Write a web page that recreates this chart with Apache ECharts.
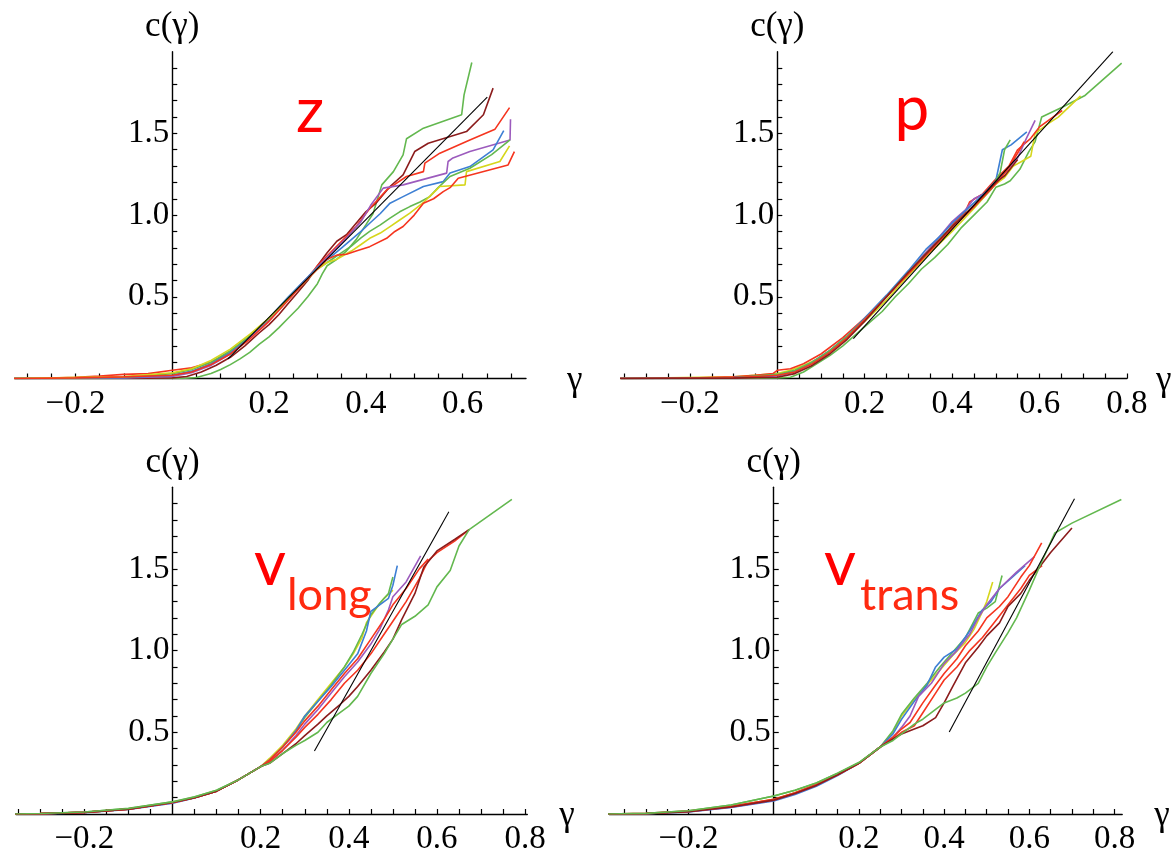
<!DOCTYPE html>
<html><head><meta charset="utf-8">
<script src="https://cdn.jsdelivr.net/npm/echarts@6/dist/echarts.min.js"></script>
<style>html,body{margin:0;padding:0;background:#fff}#c{width:1173px;height:855px}</style>
</head><body><div id="c"></div>
<script>
// ---------- tick labels ----------
const yTickLabels = [0.5, 1.0, 1.5];
const xTickLabelsZ = [-0.2, 0.2, 0.4, 0.6];
const xTickLabelsOther = [-0.2, 0.2, 0.4, 0.6, 0.8];
const panelTitles = ['z', 'p', 'v', 'v'];
const panelSubs = ['', '', 'long', 'trans'];
const yAxisName = 'c(\u03b3)';
const xAxisName = '\u03b3';

// ---------- panel z ----------
const z_green1 = [[-0.33,0],[-0.1,0],[0.02,0],[0.05,0.006],[0.08,0.03],[0.1,0.055],[0.12,0.085],[0.14,0.12],[0.16,0.16],[0.18,0.21],[0.2,0.255],[0.22,0.31],[0.24,0.37],[0.26,0.43],[0.28,0.5],[0.3,0.58],[0.31,0.64],[0.32,0.69],[0.34,0.73],[0.36,0.78],[0.38,0.85],[0.4,0.94],[0.415,1.01],[0.433,1.185],[0.457,1.266],[0.477,1.369],[0.484,1.467],[0.519,1.532],[0.598,1.614],[0.603,1.736],[0.619,1.934]];
const z_darkred = [[-0.33,0],[-0.1,0.001],[0,0.004],[0.03,0.012],[0.06,0.04],[0.09,0.08],[0.12,0.13],[0.15,0.2],[0.18,0.28],[0.2,0.33],[0.22,0.39],[0.24,0.46],[0.26,0.53],[0.28,0.6],[0.3,0.69],[0.32,0.77],[0.34,0.84],[0.36,0.88],[0.38,0.95],[0.4,1.02],[0.42,1.07],[0.45,1.175],[0.477,1.246],[0.501,1.389],[0.529,1.44],[0.608,1.511],[0.643,1.614],[0.663,1.777]];
const z_red1 = [[-0.33,0],[-0.25,0.003],[-0.2,0.008],[-0.15,0.015],[-0.1,0.025],[-0.05,0.03],[0,0.05],[0.04,0.065],[0.08,0.1],[0.12,0.16],[0.16,0.25],[0.2,0.36],[0.24,0.49],[0.27,0.58],[0.3,0.69],[0.33,0.78],[0.36,0.87],[0.38,0.93],[0.408,1.04],[0.443,1.154],[0.484,1.236],[0.519,1.266],[0.522,1.318],[0.553,1.379],[0.615,1.46],[0.667,1.526],[0.697,1.658]];
const z_purple = [[-0.33,0],[-0.1,0.003],[0,0.012],[0.04,0.035],[0.08,0.08],[0.12,0.15],[0.16,0.25],[0.2,0.36],[0.24,0.49],[0.27,0.59],[0.3,0.68],[0.33,0.77],[0.36,0.86],[0.39,0.96],[0.41,1.06],[0.436,1.165],[0.477,1.185],[0.567,1.257],[0.57,1.328],[0.58,1.35],[0.615,1.389],[0.698,1.46],[0.699,1.587]];
const z_blue = [[-0.33,0],[-0.1,0.005],[0,0.02],[0.04,0.045],[0.08,0.09],[0.12,0.16],[0.16,0.26],[0.2,0.37],[0.24,0.5],[0.27,0.59],[0.3,0.68],[0.33,0.75],[0.35,0.8],[0.37,0.85],[0.39,0.9],[0.408,0.95],[0.43,1.01],[0.45,1.073],[0.477,1.113],[0.519,1.175],[0.56,1.205],[0.574,1.257],[0.615,1.297],[0.663,1.399],[0.685,1.517]];
const z_green2 = [[-0.33,0],[-0.1,0.008],[0,0.03],[0.04,0.055],[0.08,0.1],[0.12,0.17],[0.16,0.26],[0.2,0.37],[0.24,0.49],[0.27,0.58],[0.3,0.67],[0.33,0.73],[0.35,0.77],[0.37,0.81],[0.39,0.86],[0.408,0.9],[0.43,0.94],[0.45,0.981],[0.47,1.02],[0.491,1.052],[0.512,1.08],[0.532,1.113],[0.55,1.17],[0.574,1.236],[0.615,1.287],[0.66,1.37],[0.698,1.46]];
const z_yellow = [[-0.33,0],[-0.1,0.012],[0,0.035],[0.04,0.06],[0.08,0.11],[0.12,0.18],[0.16,0.27],[0.2,0.37],[0.24,0.49],[0.27,0.58],[0.3,0.67],[0.32,0.71],[0.34,0.73],[0.37,0.78],[0.39,0.82],[0.408,0.858],[0.43,0.89],[0.45,0.93],[0.47,0.97],[0.491,1.012],[0.52,1.08],[0.546,1.154],[0.553,1.175],[0.605,1.185],[0.608,1.266],[0.677,1.328],[0.697,1.424]];
const z_red2 = [[-0.33,0],[-0.2,0.004],[-0.1,0.01],[0,0.02],[0.04,0.04],[0.08,0.085],[0.12,0.15],[0.16,0.24],[0.2,0.35],[0.24,0.48],[0.27,0.58],[0.3,0.67],[0.32,0.73],[0.34,0.755],[0.36,0.76],[0.38,0.78],[0.408,0.807],[0.443,0.858],[0.46,0.9],[0.477,0.93],[0.5,1.0],[0.519,1.073],[0.54,1.1],[0.56,1.144],[0.575,1.17],[0.591,1.226],[0.694,1.307],[0.707,1.389]];
const z_fit = [[0.115,0.12],[0.651,1.722]];

// ---------- panel p ----------
const p_green1 = [[-0.36,0],[-0.1,0],[0,0.003],[0.03,0.008],[0.06,0.04],[0.09,0.09],[0.12,0.14],[0.15,0.2],[0.18,0.27],[0.21,0.34],[0.24,0.41],[0.27,0.5],[0.3,0.58],[0.33,0.67],[0.36,0.74],[0.39,0.82],[0.42,0.92],[0.45,1.0],[0.48,1.08],[0.5,1.17],[0.52,1.19],[0.533,1.21],[0.555,1.28],[0.575,1.385],[0.59,1.45],[0.605,1.6],[0.652,1.66],[0.703,1.73],[0.788,1.93]];
const p_yellow = [[-0.36,0],[-0.1,0.01],[0,0.03],[0.03,0.05],[0.06,0.08],[0.1,0.13],[0.15,0.23],[0.2,0.35],[0.25,0.48],[0.3,0.63],[0.35,0.77],[0.4,0.9],[0.45,1.04],[0.5,1.19],[0.52,1.23],[0.54,1.3],[0.56,1.33],[0.58,1.36],[0.59,1.5],[0.62,1.56],[0.643,1.6],[0.694,1.73]];
const p_red1 = [[-0.36,0],[-0.2,0.002],[-0.1,0.01],[-0.05,0.02],[-0.01,0.03],[0,0.05],[0.03,0.06],[0.06,0.09],[0.1,0.15],[0.15,0.25],[0.2,0.37],[0.25,0.5],[0.3,0.65],[0.35,0.8],[0.38,0.87],[0.41,0.97],[0.43,1.02],[0.44,1.08],[0.47,1.13],[0.5,1.22],[0.53,1.3],[0.55,1.4],[0.58,1.47],[0.6,1.54],[0.652,1.64]];
const p_purple = [[-0.36,0],[-0.1,0.004],[0,0.015],[0.04,0.04],[0.08,0.1],[0.12,0.17],[0.16,0.26],[0.2,0.36],[0.25,0.5],[0.3,0.65],[0.35,0.8],[0.4,0.96],[0.43,1.03],[0.45,1.1],[0.48,1.14],[0.5,1.2],[0.52,1.26],[0.55,1.35],[0.57,1.47],[0.59,1.58]];
const p_blue = [[-0.36,0],[-0.1,0.006],[0,0.02],[0.04,0.045],[0.08,0.1],[0.12,0.17],[0.16,0.26],[0.2,0.37],[0.25,0.51],[0.3,0.66],[0.34,0.79],[0.38,0.89],[0.4,0.95],[0.44,1.05],[0.48,1.15],[0.5,1.21],[0.515,1.4],[0.535,1.43],[0.571,1.51]];
const p_green2 = [[-0.36,0],[-0.1,0.005],[0,0.025],[0.04,0.05],[0.08,0.1],[0.12,0.17],[0.16,0.26],[0.2,0.36],[0.25,0.5],[0.3,0.65],[0.35,0.79],[0.4,0.93],[0.45,1.05],[0.49,1.16],[0.51,1.26],[0.52,1.4],[0.533,1.46]];
const p_red2 = [[-0.36,0],[-0.1,0.005],[0,0.02],[0.04,0.04],[0.08,0.09],[0.12,0.16],[0.16,0.25],[0.2,0.36],[0.25,0.5],[0.3,0.64],[0.35,0.78],[0.4,0.92],[0.45,1.05],[0.5,1.19],[0.53,1.29],[0.55,1.38],[0.565,1.45]];
const p_darkred = [[-0.36,0],[-0.1,0.002],[0,0.008],[0.04,0.03],[0.08,0.08],[0.12,0.15],[0.16,0.24],[0.2,0.35],[0.25,0.5],[0.3,0.65],[0.35,0.79],[0.4,0.93],[0.45,1.06],[0.5,1.2],[0.52,1.24],[0.55,1.34]];
const p_fit = [[0.174,0.244],[0.768,2.0]];

// ---------- panel v_long ----------
const vl_yellow = [[-0.36,0],[-0.3,0.002],[-0.2,0.01],[-0.1,0.03],[0,0.07],[0.05,0.1],[0.1,0.14],[0.15,0.21],[0.2,0.29],[0.22,0.34],[0.25,0.42],[0.28,0.52],[0.3,0.6],[0.33,0.7],[0.36,0.8],[0.39,0.9],[0.41,0.98],[0.43,1.08],[0.44,1.17],[0.46,1.25],[0.48,1.32],[0.5,1.37]];
const vl_green1 = [[-0.36,0],[-0.3,0.003],[-0.2,0.012],[-0.1,0.035],[0,0.075],[0.05,0.105],[0.1,0.145],[0.15,0.21],[0.2,0.29],[0.22,0.33],[0.25,0.41],[0.28,0.51],[0.3,0.59],[0.33,0.69],[0.36,0.79],[0.39,0.9],[0.41,0.99],[0.43,1.1],[0.45,1.22],[0.47,1.29],[0.49,1.35],[0.5,1.45]];
const vl_blue = [[-0.36,0],[-0.3,0.001],[-0.2,0.008],[-0.1,0.028],[0,0.066],[0.05,0.098],[0.1,0.14],[0.15,0.21],[0.2,0.29],[0.22,0.33],[0.25,0.41],[0.28,0.51],[0.3,0.6],[0.33,0.69],[0.36,0.78],[0.39,0.88],[0.42,0.98],[0.44,1.12],[0.45,1.24],[0.47,1.28],[0.49,1.32],[0.5,1.4],[0.51,1.52]];
const vl_purple = [[-0.36,0],[-0.3,0.002],[-0.2,0.01],[-0.1,0.03],[0,0.068],[0.05,0.1],[0.1,0.14],[0.15,0.21],[0.2,0.29],[0.22,0.32],[0.25,0.39],[0.28,0.48],[0.3,0.55],[0.33,0.64],[0.36,0.74],[0.39,0.84],[0.42,0.93],[0.45,1.04],[0.47,1.13],[0.49,1.25],[0.5,1.33],[0.53,1.42],[0.563,1.58]];
const vl_red1 = [[-0.36,0],[-0.3,0.002],[-0.2,0.01],[-0.1,0.03],[0,0.07],[0.05,0.1],[0.1,0.14],[0.15,0.21],[0.2,0.29],[0.22,0.32],[0.25,0.39],[0.28,0.47],[0.3,0.53],[0.33,0.61],[0.36,0.7],[0.39,0.8],[0.42,0.88],[0.45,0.98],[0.48,1.1],[0.5,1.18],[0.53,1.3],[0.56,1.44],[0.58,1.55],[0.6,1.6],[0.64,1.67],[0.673,1.74]];
const vl_red2 = [[-0.36,0],[-0.3,0.002],[-0.2,0.01],[-0.1,0.03],[0,0.07],[0.05,0.1],[0.1,0.14],[0.15,0.21],[0.2,0.29],[0.22,0.33],[0.25,0.41],[0.28,0.5],[0.3,0.57],[0.33,0.66],[0.36,0.76],[0.39,0.86],[0.42,0.95],[0.45,1.07],[0.48,1.19],[0.5,1.28],[0.53,1.38],[0.56,1.5],[0.58,1.56]];
const vl_darkred = [[-0.36,0],[-0.3,0.002],[-0.2,0.01],[-0.1,0.03],[0,0.07],[0.05,0.1],[0.1,0.14],[0.15,0.21],[0.2,0.29],[0.22,0.31],[0.25,0.37],[0.28,0.43],[0.3,0.48],[0.33,0.55],[0.35,0.6],[0.38,0.67],[0.4,0.72],[0.42,0.78],[0.45,0.88],[0.48,0.99],[0.5,1.07],[0.52,1.19],[0.55,1.35],[0.57,1.51],[0.6,1.61],[0.64,1.68],[0.673,1.74]];
const vl_green2 = [[-0.36,0],[-0.3,0.003],[-0.2,0.012],[-0.1,0.034],[0,0.074],[0.05,0.104],[0.1,0.145],[0.15,0.21],[0.2,0.29],[0.22,0.31],[0.25,0.37],[0.28,0.42],[0.3,0.45],[0.33,0.5],[0.35,0.56],[0.38,0.62],[0.4,0.66],[0.42,0.72],[0.45,0.86],[0.48,0.98],[0.5,1.07],[0.52,1.16],[0.55,1.21],[0.58,1.28],[0.6,1.39],[0.63,1.49],[0.65,1.64],[0.673,1.74],[0.77,1.925]];
const vl_fit = [[0.322,0.386],[0.627,1.85]];

// ---------- panel v_trans ----------
const vt_yellow = [[-0.39,0],[-0.3,0.002],[-0.2,0.015],[-0.1,0.045],[0,0.09],[0.05,0.13],[0.1,0.18],[0.15,0.24],[0.2,0.31],[0.25,0.41],[0.28,0.5],[0.3,0.6],[0.33,0.7],[0.36,0.79],[0.39,0.88],[0.42,0.97],[0.45,1.05],[0.47,1.13],[0.49,1.24],[0.5,1.3],[0.514,1.42]];
const vt_green1 = [[-0.39,0],[-0.3,0.004],[-0.2,0.02],[-0.1,0.055],[0,0.11],[0.05,0.145],[0.1,0.19],[0.15,0.25],[0.2,0.315],[0.25,0.41],[0.28,0.51],[0.3,0.61],[0.33,0.71],[0.36,0.8],[0.39,0.9],[0.42,0.99],[0.45,1.08],[0.48,1.23],[0.5,1.26],[0.52,1.3],[0.536,1.46]];
const vt_blue = [[-0.39,0],[-0.3,0.002],[-0.2,0.012],[-0.1,0.04],[0,0.08],[0.05,0.12],[0.1,0.17],[0.15,0.235],[0.2,0.31],[0.25,0.41],[0.28,0.49],[0.3,0.58],[0.33,0.69],[0.36,0.79],[0.38,0.9],[0.4,0.96],[0.43,1.01],[0.46,1.12],[0.49,1.25],[0.51,1.3],[0.53,1.38],[0.56,1.45],[0.59,1.52]];
const vt_purple = [[-0.39,0],[-0.3,0.002],[-0.2,0.014],[-0.1,0.042],[0,0.085],[0.05,0.125],[0.1,0.175],[0.15,0.24],[0.2,0.31],[0.25,0.41],[0.28,0.47],[0.3,0.53],[0.32,0.6],[0.34,0.72],[0.37,0.8],[0.4,0.92],[0.43,1.0],[0.46,1.1],[0.48,1.2],[0.5,1.28],[0.53,1.38],[0.57,1.48],[0.612,1.575]];
const vt_red1 = [[-0.39,0],[-0.3,0.004],[-0.2,0.018],[-0.1,0.047],[0,0.09],[0.05,0.13],[0.1,0.18],[0.15,0.24],[0.2,0.31],[0.25,0.41],[0.28,0.47],[0.3,0.52],[0.32,0.56],[0.35,0.68],[0.38,0.79],[0.4,0.86],[0.43,0.95],[0.45,1.03],[0.48,1.12],[0.5,1.2],[0.53,1.27],[0.55,1.33],[0.58,1.45],[0.6,1.52],[0.629,1.66]];
const vt_red2 = [[-0.39,0],[-0.3,0.003],[-0.2,0.016],[-0.1,0.045],[0,0.088],[0.05,0.128],[0.1,0.178],[0.15,0.24],[0.2,0.31],[0.25,0.41],[0.28,0.46],[0.3,0.5],[0.33,0.54],[0.35,0.62],[0.38,0.74],[0.4,0.82],[0.43,0.9],[0.46,1.0],[0.49,1.08],[0.52,1.18],[0.55,1.28],[0.58,1.38],[0.6,1.46],[0.63,1.52]];
const vt_darkred = [[-0.39,0],[-0.3,0.002],[-0.2,0.014],[-0.1,0.043],[0,0.085],[0.05,0.125],[0.1,0.175],[0.15,0.24],[0.2,0.31],[0.25,0.41],[0.28,0.46],[0.3,0.49],[0.33,0.52],[0.35,0.54],[0.38,0.59],[0.4,0.68],[0.42,0.78],[0.45,0.925],[0.48,1.02],[0.5,1.09],[0.53,1.17],[0.55,1.27],[0.58,1.35],[0.6,1.43],[0.65,1.6],[0.7,1.75]];
const vt_green2 = [[-0.39,0],[-0.3,0.004],[-0.2,0.02],[-0.1,0.055],[0,0.11],[0.05,0.145],[0.1,0.19],[0.15,0.25],[0.2,0.315],[0.25,0.41],[0.28,0.45],[0.3,0.49],[0.33,0.55],[0.35,0.58],[0.38,0.64],[0.4,0.68],[0.43,0.71],[0.45,0.74],[0.48,0.8],[0.5,0.9],[0.52,0.986],[0.55,1.11],[0.57,1.2],[0.6,1.37],[0.63,1.55],[0.66,1.72],[0.7,1.78],[0.816,1.925]];
const vt_fit = [[0.412,0.502],[0.706,1.93]];

// ---------- colors ----------
const COL = {green:'#63b84f', darkred:'#8b1c1c', red:'#f5351f', purple:'#9c5bbd', blue:'#3d7fd4', yellow:'#d6d61c', black:'#000000'};

const panelSeries = [
  [['green',z_green1],['darkred',z_darkred],['red',z_red1],['purple',z_purple],['blue',z_blue],['green',z_green2],['yellow',z_yellow],['red',z_red2],['black',z_fit]],
  [['green',p_green1],['yellow',p_yellow],['red',p_red1],['purple',p_purple],['blue',p_blue],['green',p_green2],['red',p_red2],['darkred',p_darkred],['black',p_fit]],
  [['yellow',vl_yellow],['green',vl_green1],['blue',vl_blue],['purple',vl_purple],['red',vl_red1],['red',vl_red2],['darkred',vl_darkred],['green',vl_green2],['black',vl_fit]],
  [['yellow',vt_yellow],['green',vt_green1],['blue',vt_blue],['purple',vt_purple],['red',vt_red1],['red',vt_red2],['darkred',vt_darkred],['green',vt_green2],['black',vt_fit]]
];

// ---------- layout (pixels) ----------
const layout = [
  {left:15.0, top:51.7, width:511.0, height:326.8, xmin:-0.325, xmax:0.731, labels:xTickLabelsZ, nameGap:41, tx:310, ty:112, sub:0},
  {left:621.3, top:51.7, width:505.6, height:326.8, xmin:-0.357, xmax:0.8, labels:xTickLabelsOther, nameGap:29, tx:912, ty:110, sub:0},
  {left:16.1, top:487.2, width:511.2, height:326.8, xmin:-0.355, xmax:0.805, labels:xTickLabelsOther, nameGap:32, tx:270, ty:565, sub:17},
  {left:609.3, top:487.2, width:512.9, height:326.8, xmin:-0.386, xmax:0.818, labels:xTickLabelsOther, nameGap:32, tx:840, ty:565, sub:20}
];

function ticksBetween(a, b, step) {
  const out = [];
  const start = Math.ceil(a / step - 1e-9);
  for (let k = start; k * step <= b + 1e-9; k++) { if (k !== 0) out.push(+(k * step).toFixed(3)); }
  return out;
}
const yTicks = ticksBetween(0.05, 1.95, 0.1);
const SERIF_FONT = '"Liberation Serif"';
function fmtX(v){ return (v < 0 ? '\u2212' : '') + Math.abs(v).toFixed(1); }

const grids = [], xAxes = [], yAxes = [], series = [], graphics = [];
layout.forEach((L, i) => {
  const zeroPx = (0 - L.xmin) / (L.xmax - L.xmin) * L.width;
  grids.push({left:L.left, top:L.top, width:L.width, height:L.height, containLabel:false, outerBoundsMode:'none'});
  xAxes.push({
    type:'value', gridIndex:i, min:L.xmin, max:L.xmax, position:'bottom',
    axisLine:{onZero:false, lineStyle:{color:'#000', width:1.4}},
    axisTick:{show:true, inside:true, length:5, customValues:ticksBetween(L.xmin, L.xmax, 0.05), lineStyle:{color:'#000', width:1.2}},
    axisLabel:{show:false}, splitLine:{show:false}
  });
  yAxes.push({
    type:'value', gridIndex:i, min:0, max:2.0, position:'left', offset:-zeroPx,
    axisLine:{onZero:false, lineStyle:{color:'#000', width:1.4}},
    axisTick:{show:true, inside:true, length:5, customValues:yTicks, lineStyle:{color:'#000', width:1.2}},
    axisLabel:{show:false}, splitLine:{show:false}
  });
  panelSeries[i].forEach(([c, data]) => {
    series.push({
      type:'line', xAxisIndex:i, yAxisIndex:i, data:data, showSymbol:false, symbol:'none',
      lineStyle:{color:COL[c], width:c === 'black' ? 1.1 : 1.6}, itemStyle:{color:COL[c]},
      silent:true, animation:false, z: c === 'black' ? 5 : 2
    });
  });
  graphics.push({type:'text', x:L.tx, y:L.ty, style:{text:panelTitles[i], font:'62px Lato, "Open Sans", sans-serif', fill:'#ff0000', align:'center', verticalAlign:'middle'}});
  if (panelSubs[i] !== '') {
    graphics.push({type:'text', x:L.tx + L.sub, y:L.ty + 30, style:{text:panelSubs[i], font:'45px Lato, "Open Sans", sans-serif', fill:'#ff2a10', align:'left', verticalAlign:'middle'}});
  }
});

const chart = echarts.init(document.getElementById('c'), null, {renderer:'canvas'});
chart.setOption({
  animation:false,
  backgroundColor:'#ffffff',
  grid:grids, xAxis:xAxes, yAxis:yAxes, series:series
});

// axis labels and names, positioned through the chart's own scales
layout.forEach((L, i) => {
  L.labels.forEach(v => {
    const p = chart.convertToPixel({gridIndex:i}, [v, 0]);
    graphics.push({type:'text', x:p[0], y:p[1] + 9, style:{text:fmtX(v), font:'33px ' + SERIF_FONT, fill:'#000', align:'center', verticalAlign:'top'}});
  });
  yTickLabels.forEach(v => {
    const p = chart.convertToPixel({gridIndex:i}, [0, v]);
    graphics.push({type:'text', x:p[0] - 3, y:p[1], style:{text:v.toFixed(1), font:'33px ' + SERIF_FONT, fill:'#000', align:'right', verticalAlign:'middle'}});
  });
  const top = chart.convertToPixel({gridIndex:i}, [0, 2.0]);
  graphics.push({type:'text', x:top[0], y:top[1] - 7, style:{text:yAxisName, font:'35px ' + SERIF_FONT, fill:'#000', align:'center', verticalAlign:'bottom'}});
  const end = chart.convertToPixel({gridIndex:i}, [L.xmax, 0]);
  graphics.push({type:'text', x:end[0] + L.nameGap, y:end[1] + 2, style:{text:xAxisName, font:'35px ' + SERIF_FONT, fill:'#000', align:'left', verticalAlign:'middle'}});
});
chart.setOption({graphic:graphics});
</script></body></html>
